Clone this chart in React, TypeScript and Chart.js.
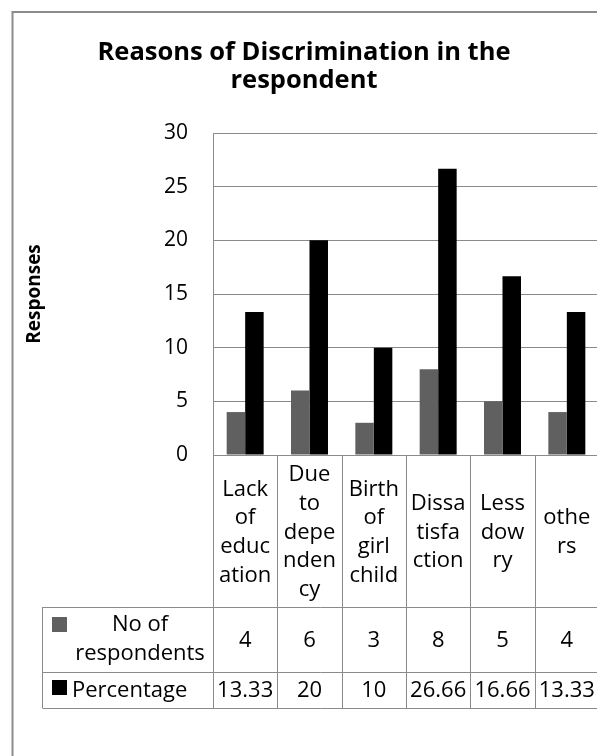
import { useEffect, useRef } from "react";
import { Chart, registerables } from "chart.js";

Chart.register(...registerables);

// ---- data ----
const categoryLines: string[][] = [
  ["Lack", "of", "educ", "ation"],
  ["Due", "to", "depe", "nden", "cy"],
  ["Birth", "of", "girl", "child"],
  ["Dissa", "tisfa", "ction"],
  ["Less", "dow", "ry"],
  ["othe", "rs"],
];
const respondents = [4, 6, 3, 8, 5, 4];
const percentage = [13.33, 20, 10, 26.66, 16.66, 13.33];
const seriesNames = ["No of respondents", "Percentage"];
const seriesLabelLines = [["No of", "respondents"], ["Percentage"]];
const seriesColors = ["#606060", "#000000"];
const titleLines = ["Reasons of Discrimination in the", "respondent"];
const yAxisTitle = "Responses";
const yMin = 0;
const yMax = 30;
const yStep = 5;

const FONT = "'Open Sans', sans-serif";
const LINE = "#8a8a8a";

const framePlugin = {
  id: "frameAndTable",
  beforeDraw(chart: any) {
    const ctx = chart.ctx as CanvasRenderingContext2D;
    ctx.save();
    ctx.fillStyle = "#ffffff";
    ctx.fillRect(0, 0, chart.width, chart.height);
    ctx.strokeStyle = "#8c8c8c";
    ctx.lineWidth = 2;
    ctx.strokeRect(12.5, 12, chart.width + 60, chart.height + 60);
    // title
    ctx.fillStyle = "#000";
    ctx.font = `bold 25.5px ${FONT}`;
    ctx.textAlign = "center";
    ctx.textBaseline = "alphabetic";
    titleLines.forEach((t, i) => ctx.fillText(t, 304, 60 + i * 28));
    ctx.restore();
  },
  afterDraw(chart: any) {
    const ctx = chart.ctx as CanvasRenderingContext2D;
    const xs = chart.scales.x;
    const n = categoryLines.length;
    const left = xs.left;
    const right = xs.right;
    const colW = (right - left) / n;
    const top = xs.top;
    const headerBottom = top + 152;
    const row1Bottom = headerBottom + 65;
    const row2Bottom = row1Bottom + 36;
    const tableLeft = 42.5;
    ctx.save();
    ctx.strokeStyle = LINE;
    ctx.lineWidth = 1;
    ctx.beginPath();
    for (let i = 0; i <= n; i++) {
      const x = Math.round(left + i * colW) + 0.5;
      ctx.moveTo(x, top);
      ctx.lineTo(x, row2Bottom);
    }
    ctx.moveTo(tableLeft, headerBottom);
    ctx.lineTo(tableLeft, row2Bottom);
    [headerBottom, row1Bottom, row2Bottom].forEach((y) => {
      const yy = Math.round(y) + 0.5;
      ctx.moveTo(tableLeft, yy);
      ctx.lineTo(right, yy);
    });
    ctx.stroke();

    // values
    ctx.fillStyle = "#000";
    ctx.font = `22px ${FONT}`;
    ctx.textAlign = "center";
    ctx.textBaseline = "alphabetic";
    respondents.forEach((v, i) =>
      ctx.fillText(String(v), xs.getPixelForValue(i), headerBottom + 40)
    );
    percentage.forEach((v, i) =>
      ctx.fillText(String(v), xs.getPixelForValue(i), row1Bottom + 25)
    );

    // legend keys
    ctx.fillStyle = seriesColors[0];
    ctx.fillRect(52, headerBottom + 10, 15, 15);
    ctx.fillStyle = seriesColors[1];
    ctx.fillRect(52, row1Bottom + 8, 15, 15);

    // row labels
    ctx.fillStyle = "#000";
    ctx.textAlign = "center";
    ctx.fillText(seriesLabelLines[0][0], 140, headerBottom + 24);
    ctx.fillText(seriesLabelLines[0][1], 140, headerBottom + 53);
    ctx.textAlign = "left";
    ctx.fillText(seriesLabelLines[1][0], 72, row1Bottom + 25);
    ctx.restore();
  },
};

export default function App() {
  const ref = useRef<HTMLCanvasElement>(null);

  useEffect(() => {
    const chart = new Chart(ref.current as HTMLCanvasElement, {
      type: "bar",
      data: {
        labels: categoryLines,
        datasets: [
          {
            label: seriesNames[0],
            data: respondents,
            backgroundColor: seriesColors[0],
            categoryPercentage: 0.575,
            barPercentage: 1,
          },
          {
            label: seriesNames[1],
            data: percentage,
            backgroundColor: seriesColors[1],
            categoryPercentage: 0.575,
            barPercentage: 1,
          },
        ],
      },
      options: {
        responsive: false,
        animation: false,
        layout: { padding: { left: 24, right: 21, top: 133, bottom: 48 } },
        plugins: {
          legend: { display: false },
          title: { display: false },
          tooltip: { enabled: false },
        },
        scales: {
          x: {
            grid: { display: false, drawTicks: false },
            border: { display: true, color: LINE },
            ticks: {
              color: "#000",
              font: { family: FONT, size: 22, lineHeight: "28.7px" },
              padding: 20,
              crossAlign: "center",
              maxRotation: 0,
              minRotation: 0,
              autoSkip: false,
            },
            afterFit: (s: any) => {
              s.height = 253;
            },
          },
          y: {
            min: yMin,
            max: yMax,
            grid: { color: LINE, drawTicks: false },
            border: { display: true, color: LINE },
            ticks: {
              stepSize: yStep,
              color: "#000",
              font: { family: FONT, size: 21 },
              padding: 25,
            },
            title: {
              display: true,
              text: yAxisTitle,
              color: "#000",
              font: { family: FONT, size: 19, weight: "bold", lineHeight: "22px" },
              padding: 0,
            },
            afterFit: (s: any) => {
              s.width = 189;
            },
          },
        },
      },
      plugins: [framePlugin],
    } as any);
    return () => chart.destroy();
  }, []);

  return (
    <div
      style={{
        position: "fixed",
        left: 0,
        top: 0,
        width: 597,
        height: 756,
        overflow: "hidden",
        background: "#fff",
      }}
    >
      <canvas ref={ref} width={620} height={756} style={{ display: "block", width: 620, height: 756 }} />
    </div>
  );
}
